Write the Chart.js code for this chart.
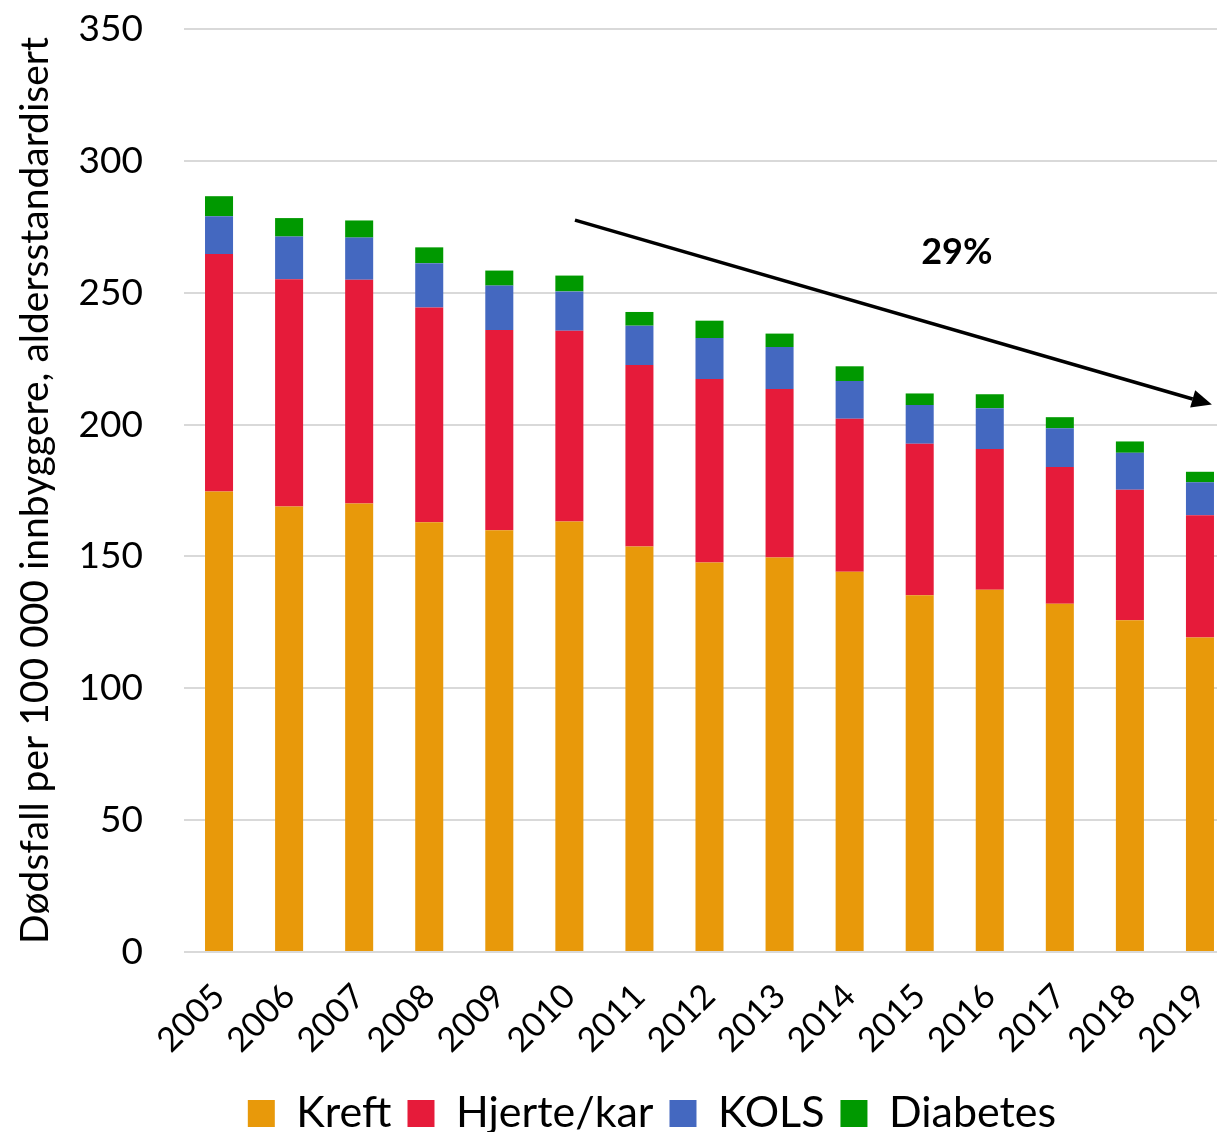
<!DOCTYPE html>
<html lang="no">
<head>
<meta charset="UTF-8">
<title>Dødsfall per 100 000 innbyggere</title>
<script src="https://cdn.jsdelivr.net/npm/chart.js"></script>
<style>
  html, body { margin: 0; padding: 0; background: #fff; overflow: hidden; }
</style>
</head>
<body>
<canvas id="chart" width="1304" height="1145"></canvas>
<script>
// data
const years    = ['2005','2006','2007','2008','2009','2010','2011','2012','2013','2014','2015','2016','2017','2018','2019'];
const kreft    = [174.6, 168.9, 170.1, 163.0, 159.9, 163.2, 153.8, 147.7, 149.6, 144.2, 135.3, 137.4, 132.1, 125.8, 119.3];
const hjerte   = [ 90.1,  86.2,  84.8,  81.4,  76.0,  72.4,  68.8,  69.6,  63.9,  58.0,  57.4,  53.3,  51.8,  49.5,  46.3];
const kols     = [ 14.3,  16.2,  16.0,  16.8,  16.8,  14.9,  14.9,  15.5,  15.9,  14.3,  14.7,  15.5,  14.7,  14.0,  12.5];
const diabetes = [  7.6,   7.0,   6.5,   6.0,   5.7,   6.0,   5.2,   6.6,   5.1,   5.6,   4.4,   5.3,   4.2,   4.3,   4.0];
const yTicks   = [0, 50, 100, 150, 200, 250, 300, 350];

// trend arrow + label, in data units (category index, value)
const arrowFrom  = [5.08, 277.5];
const arrowTo    = [14.17, 207.6];
const trendLabel = '29%';
const labelAt    = [10.53, 265.4];

Chart.defaults.font.family = 'Lato, "Open Sans", sans-serif';
Chart.defaults.color = '#000';

const trendArrow = {
  id: 'trendArrow',
  afterDatasetsDraw(chart) {
    const { ctx, scales: { x, y } } = chart;
    const x1 = x.getPixelForValue(arrowFrom[0]), y1 = y.getPixelForValue(arrowFrom[1]);
    const x2 = x.getPixelForValue(arrowTo[0]),   y2 = y.getPixelForValue(arrowTo[1]);
    const ang = Math.atan2(y2 - y1, x2 - x1);
    const headLen = 20, headW = 9;
    ctx.save();
    ctx.strokeStyle = '#000';
    ctx.fillStyle = '#000';
    ctx.lineWidth = 3.5;
    ctx.beginPath();
    ctx.moveTo(x1, y1);
    ctx.lineTo(x2 - Math.cos(ang) * headLen, y2 - Math.sin(ang) * headLen);
    ctx.stroke();
    ctx.beginPath();
    ctx.moveTo(x2, y2);
    ctx.lineTo(x2 - Math.cos(ang) * headLen + Math.sin(ang) * headW, y2 - Math.sin(ang) * headLen - Math.cos(ang) * headW);
    ctx.lineTo(x2 - Math.cos(ang) * headLen - Math.sin(ang) * headW, y2 - Math.sin(ang) * headLen + Math.cos(ang) * headW);
    ctx.closePath();
    ctx.fill();
    // label
    ctx.font = 'bold 36px Lato, "Open Sans", sans-serif';
    ctx.textAlign = 'center';
    ctx.textBaseline = 'middle';
    ctx.fillText(trendLabel, x.getPixelForValue(labelAt[0]), y.getPixelForValue(labelAt[1]));
    ctx.restore();
  }
};

function bars(label, data, color) {
  return {
    label: label,
    data: data,
    backgroundColor: color,
    borderWidth: 0,
    barPercentage: 0.4,
    categoryPercentage: 1.0
  };
}

new Chart(document.getElementById('chart'), {
  type: 'bar',
  data: {
    labels: years,
    datasets: [
      bars('Kreft', kreft, '#E8990A'),
      bars('Hjerte/kar', hjerte, '#E61B3A'),
      bars('KOLS', kols, '#4468C0'),
      bars('Diabetes', diabetes, '#009900')
    ]
  },
  options: {
    responsive: false,
    animation: false,
    layout: { padding: { top: 29, bottom: 0, left: 0, right: 0 } },
    plugins: {
      legend: {
        position: 'bottom',
        labels: {
          boxWidth: 27,
          boxHeight: 27,
          padding: 16,
          font: { size: 43 },
          color: '#000'
        }
      },
      tooltip: { enabled: false }
    },
    scales: {
      x: {
        stacked: true,
        grid: { display: false },
        border: { display: false },
        ticks: {
          autoSkip: false,
          minRotation: 45,
          maxRotation: 45,
          padding: 16,
          font: { size: 34 },
          color: '#000'
        },
        afterFit(s) { s.height = 124; s.paddingLeft = 0; s.paddingRight = 0; }
      },
      y: {
        stacked: true,
        min: 0,
        max: 350,
        afterBuildTicks(s) { s.ticks = yTicks.map(v => ({ value: v })); },
        grid: { color: '#d9d9d9', lineWidth: 2, drawTicks: false },
        border: { display: false },
        ticks: { padding: 41, font: { size: 37 }, color: '#000' },
        title: {
          display: true,
          text: 'Dødsfall per 100 000 innbyggere, aldersstandardisert',
          font: { size: 39 },
          color: '#000',
          padding: { top: 12, bottom: 0 }
        },
        afterFit(s) { s.width = 184; s.paddingTop = 0; s.paddingBottom = 0; }
      },
      yR: {
        type: 'linear',
        position: 'right',
        display: true,
        grid: { display: false },
        border: { display: false },
        ticks: { display: false },
        afterFit(s) { s.width = 69; }
      }
    }
  },
  plugins: [trendArrow]
});
</script>
</body>
</html>
